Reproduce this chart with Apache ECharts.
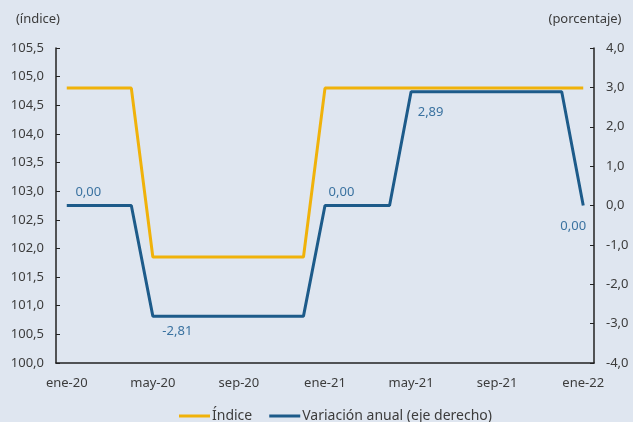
<!DOCTYPE html>
<html>
<head>
<meta charset="utf-8">
<script src="https://cdn.jsdelivr.net/npm/echarts@6/dist/echarts.min.js"></script>
<style>
  html, body { margin: 0; padding: 0; background: #dfe6f0; }
  #chart { width: 633px; height: 422px; }
</style>
</head>
<body>
<div id="chart"></div>
<script>
const months = [
  'ene-20', 'feb-20', 'mar-20', 'abr-20', 'may-20', 'jun-20', 'jul-20', 'ago-20',
  'sep-20', 'oct-20', 'nov-20', 'dic-20', 'ene-21', 'feb-21', 'mar-21', 'abr-21',
  'may-21', 'jun-21', 'jul-21', 'ago-21', 'sep-21', 'oct-21', 'nov-21', 'dic-21', 'ene-22'
];
const indice = [
  104.8, 104.8, 104.8, 104.8, 101.85, 101.85, 101.85, 101.85,
  101.85, 101.85, 101.85, 101.85, 104.8, 104.8, 104.8, 104.8,
  104.8, 104.8, 104.8, 104.8, 104.8, 104.8, 104.8, 104.8, 104.8
];
const variacion = [
  0, 0, 0, 0, -2.81, -2.81, -2.81, -2.81,
  -2.81, -2.81, -2.81, -2.81, 0, 0, 0, 0,
  2.89, 2.89, 2.89, 2.89, 2.89, 2.89, 2.89, 2.89, 0
];
// which points carry a value label: position, distance, horizontal nudge
const labelAt = {
  1: ['top', 7, 0],
  5: ['bottom', 9, 3],
  13: ['top', 7, -5],
  17: ['bottom', 14, -2],
  24: ['bottom', 14, -10]
};

const fmt1 = v => v.toFixed(1).replace('.', ',');
const fmt2 = v => v.toFixed(2).replace('.', ',');

const chart = echarts.init(document.getElementById('chart'));
const textColor = '#3c3c3c';
const font = 'Noto Sans';

const option = {
  backgroundColor: '#dfe6f0',
  animation: false,
  textStyle: { fontFamily: font },
  grid: { left: 56, right: 39, top: 48, bottom: 59 },
  legend: {
    bottom: -6,
    left: 174,
    itemWidth: 31,
    itemHeight: 3,
    itemGap: 17,
    icon: 'rect',
    textStyle: { color: textColor, fontSize: 14, fontFamily: font, padding: [0, 0, 0, -3] },
    data: ['Índice', 'Variación anual (eje derecho)']
  },
  xAxis: {
    type: 'category',
    data: months,
    boundaryGap: true,
    axisLine: { onZero: false, lineStyle: { color: '#222', width: 1.5 } },
    axisTick: { inside: true, length: 4, interval: 3, lineStyle: { color: '#222' } },
    axisLabel: { interval: 3, color: textColor, fontSize: 13, margin: 14 }
  },
  yAxis: [
    {
      type: 'value',
      min: 100, max: 105.5, interval: 0.5,
      name: '(índice)',
      nameLocation: 'end',
      nameGap: 22,
      nameTextStyle: { color: textColor, fontSize: 13, align: 'right', padding: [0, -4, 0, 0] },
      axisLine: { show: true, lineStyle: { color: '#222', width: 1.5 } },
      axisTick: { show: true, inside: true, length: 4, lineStyle: { color: '#222' } },
      axisLabel: { color: textColor, fontSize: 13, margin: 12, formatter: fmt1 },
      splitLine: { show: false }
    },
    {
      type: 'value',
      min: -4, max: 4, interval: 1,
      position: 'right',
      name: '(porcentaje)',
      nameLocation: 'end',
      nameGap: 22,
      nameTextStyle: { color: textColor, fontSize: 13, align: 'center', padding: [0, 0, 0, -18] },
      axisLine: { show: true, lineStyle: { color: '#222', width: 1.5 } },
      axisTick: { show: true, inside: true, length: 4, lineStyle: { color: '#222' } },
      axisLabel: { color: textColor, fontSize: 13, margin: 12, formatter: fmt1 },
      splitLine: { show: false }
    }
  ],
  series: [
    {
      name: 'Índice',
      type: 'line',
      yAxisIndex: 0,
      data: indice,
      symbol: 'none',
      lineStyle: { color: '#f0b20a', width: 3 },
      itemStyle: { color: '#f0b20a' }
    },
    {
      name: 'Variación anual (eje derecho)',
      type: 'line',
      yAxisIndex: 1,
      showSymbol: true,
      symbol: 'circle',
      symbolSize: 0,
      data: variacion.map((v, i) => {
        const lab = labelAt[i];
        if (!lab) return v;
        return {
          value: v,
          label: {
            show: true,
            position: lab[0],
            distance: lab[1],
            offset: [lab[2], 0],
            color: '#3a72a0',
            fontSize: 13,
            formatter: p => fmt2(p.value)
          }
        };
      }),
      lineStyle: { color: '#1d5b8a', width: 3 },
      itemStyle: { color: '#1d5b8a' }
    }
  ]
};

chart.setOption(option);
</script>
</body>
</html>
